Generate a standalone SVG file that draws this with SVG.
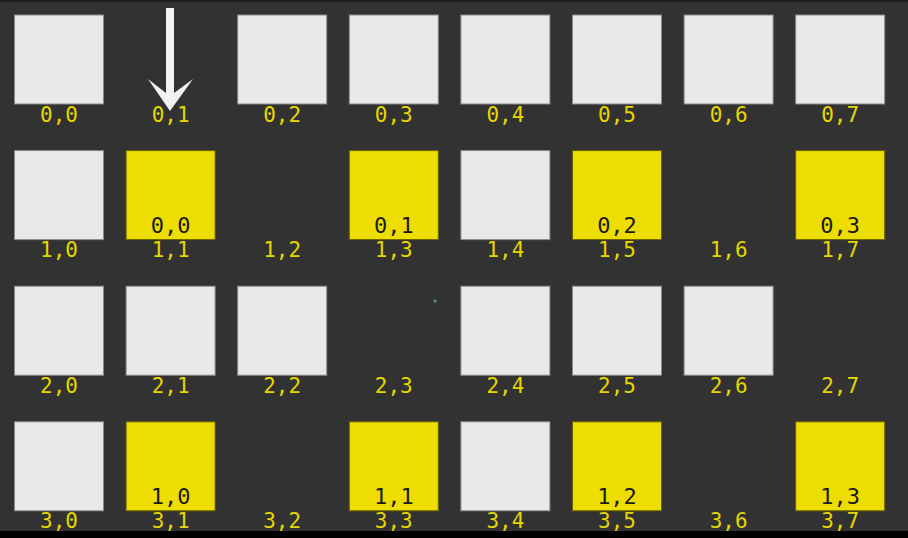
<svg xmlns="http://www.w3.org/2000/svg" width="908" height="538" viewBox="0 0 908 538">
<style>
.w{fill:#e9e9e9;stroke:#8a8a8a;stroke-width:1}
.y{fill:#eedd00;stroke:#6a6200;stroke-width:1}
.lb{font-family:"DejaVu Sans Mono","Liberation Mono",monospace;font-size:21px;fill:#e6d600;text-anchor:middle}
.in{font-family:"DejaVu Sans Mono","Liberation Mono",monospace;font-size:22px;fill:#1a1a1a;text-anchor:middle}
</style>
<rect x="0" y="0" width="908" height="538" fill="#323232"/>
<rect x="0" y="0" width="908" height="2" fill="#1c1c1c"/>
<g id="row0">
<g id="c0-0"><rect class="w" x="14.5" y="15" width="89" height="89"/><text class="lb" x="59" y="121.5">0,0</text></g>
<g id="c0-1"><text class="lb" x="170.6" y="121.5">0,1</text></g>
<g id="c0-2"><rect class="w" x="237.7" y="15" width="89" height="89"/><text class="lb" x="282.2" y="121.5">0,2</text></g>
<g id="c0-3"><rect class="w" x="349.3" y="15" width="89" height="89"/><text class="lb" x="393.8" y="121.5">0,3</text></g>
<g id="c0-4"><rect class="w" x="460.9" y="15" width="89" height="89"/><text class="lb" x="505.4" y="121.5">0,4</text></g>
<g id="c0-5"><rect class="w" x="572.5" y="15" width="89" height="89"/><text class="lb" x="617" y="121.5">0,5</text></g>
<g id="c0-6"><rect class="w" x="684.1" y="15" width="89" height="89"/><text class="lb" x="728.6" y="121.5">0,6</text></g>
<g id="c0-7"><rect class="w" x="795.7" y="15" width="89" height="89"/><text class="lb" x="840.2" y="121.5">0,7</text></g>
</g>
<g id="row1">
<g id="c1-0"><rect class="w" x="14.5" y="150.6" width="89" height="89"/><text class="lb" x="59" y="257.1">1,0</text></g>
<g id="c1-1"><rect class="y" x="126.1" y="150.6" width="89" height="89"/><text class="in" x="170.6" y="233">0,0</text><text class="lb" x="170.6" y="257.1">1,1</text></g>
<g id="c1-2"><text class="lb" x="282.2" y="257.1">1,2</text></g>
<g id="c1-3"><rect class="y" x="349.3" y="150.6" width="89" height="89"/><text class="in" x="393.8" y="233">0,1</text><text class="lb" x="393.8" y="257.1">1,3</text></g>
<g id="c1-4"><rect class="w" x="460.9" y="150.6" width="89" height="89"/><text class="lb" x="505.4" y="257.1">1,4</text></g>
<g id="c1-5"><rect class="y" x="572.5" y="150.6" width="89" height="89"/><text class="in" x="617" y="233">0,2</text><text class="lb" x="617" y="257.1">1,5</text></g>
<g id="c1-6"><text class="lb" x="728.6" y="257.1">1,6</text></g>
<g id="c1-7"><rect class="y" x="795.7" y="150.6" width="89" height="89"/><text class="in" x="840.2" y="233">0,3</text><text class="lb" x="840.2" y="257.1">1,7</text></g>
</g>
<g id="row2">
<g id="c2-0"><rect class="w" x="14.5" y="286.2" width="89" height="89"/><text class="lb" x="59" y="392.7">2,0</text></g>
<g id="c2-1"><rect class="w" x="126.1" y="286.2" width="89" height="89"/><text class="lb" x="170.6" y="392.7">2,1</text></g>
<g id="c2-2"><rect class="w" x="237.7" y="286.2" width="89" height="89"/><text class="lb" x="282.2" y="392.7">2,2</text></g>
<g id="c2-3"><text class="lb" x="393.8" y="392.7">2,3</text></g>
<g id="c2-4"><rect class="w" x="460.9" y="286.2" width="89" height="89"/><text class="lb" x="505.4" y="392.7">2,4</text></g>
<g id="c2-5"><rect class="w" x="572.5" y="286.2" width="89" height="89"/><text class="lb" x="617" y="392.7">2,5</text></g>
<g id="c2-6"><rect class="w" x="684.1" y="286.2" width="89" height="89"/><text class="lb" x="728.6" y="392.7">2,6</text></g>
<g id="c2-7"><text class="lb" x="840.2" y="392.7">2,7</text></g>
</g>
<g id="row3">
<g id="c3-0"><rect class="w" x="14.5" y="421.8" width="89" height="89"/><text class="lb" x="59" y="528.3">3,0</text></g>
<g id="c3-1"><rect class="y" x="126.1" y="421.8" width="89" height="89"/><text class="in" x="170.6" y="504.2">1,0</text><text class="lb" x="170.6" y="528.3">3,1</text></g>
<g id="c3-2"><text class="lb" x="282.2" y="528.3">3,2</text></g>
<g id="c3-3"><rect class="y" x="349.3" y="421.8" width="89" height="89"/><text class="in" x="393.8" y="504.2">1,1</text><text class="lb" x="393.8" y="528.3">3,3</text></g>
<g id="c3-4"><rect class="w" x="460.9" y="421.8" width="89" height="89"/><text class="lb" x="505.4" y="528.3">3,4</text></g>
<g id="c3-5"><rect class="y" x="572.5" y="421.8" width="89" height="89"/><text class="in" x="617" y="504.2">1,2</text><text class="lb" x="617" y="528.3">3,5</text></g>
<g id="c3-6"><text class="lb" x="728.6" y="528.3">3,6</text></g>
<g id="c3-7"><rect class="y" x="795.7" y="421.8" width="89" height="89"/><text class="in" x="840.2" y="504.2">1,3</text><text class="lb" x="840.2" y="528.3">3,7</text></g>
</g>
<g id="connectors">
<polygon id="arrow" points="166,8 174,8 174,93 193,79 170,111 148,79 166,93" fill="#f2f2f2"/>
</g>
<circle cx="435" cy="301" r="1.5" fill="#5f8fa0"/>
<rect x="0" y="531" width="908" height="7" fill="#000"/>
</svg>
